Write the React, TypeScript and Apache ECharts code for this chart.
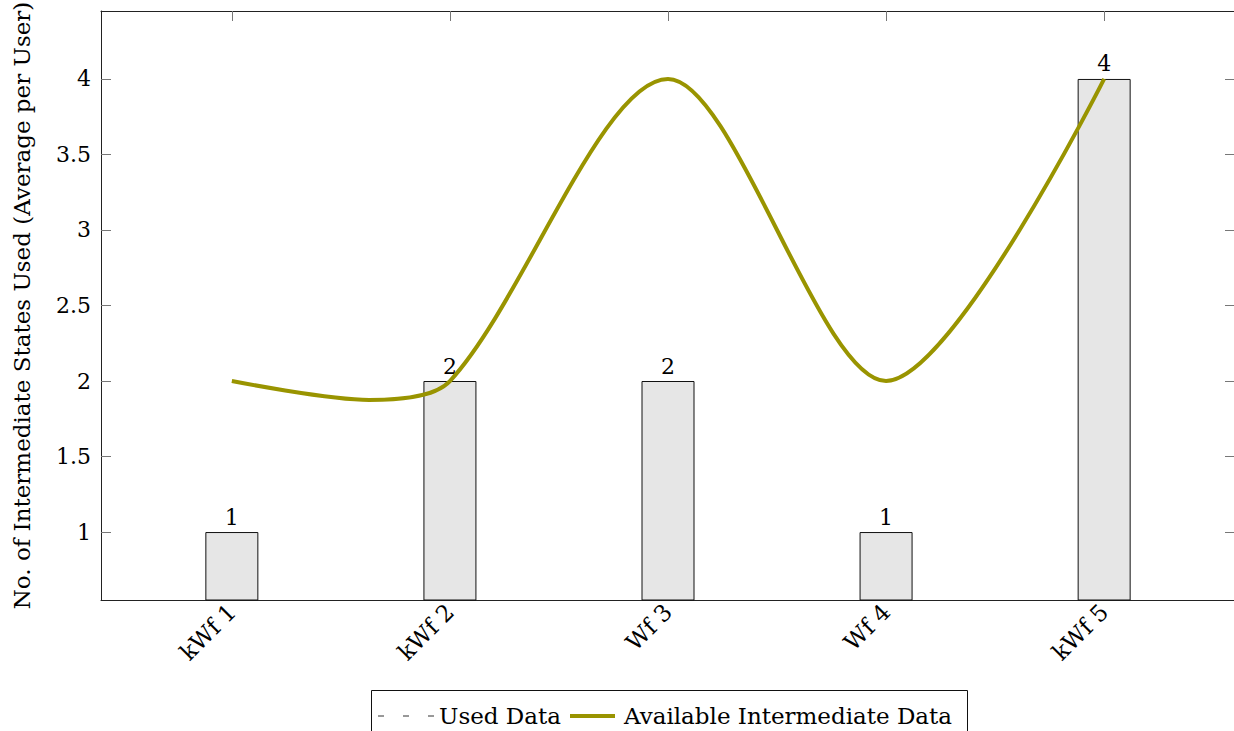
import React, { useEffect, useRef } from "react";
import * as echarts from "echarts";

const categories = ["kWf 1", "kWf 2", "Wf 3", "Wf 4", "kWf 5"];
const usedData = [1, 2, 2, 1, 4];
const lineX = [0, 0.63, 1, 2, 3, 4];
const lineY = [2, 1.875, 2, 4, 2, 4];
const yTicks = [1, 1.5, 2, 2.5, 3, 3.5, 4];
const xTicks = [0, 1, 2, 3, 4];

const FONT = "DejaVu Serif";
const FS = 23;
const FS_NUM = 22;
const OLIVE = "#999400";

export default function App() {
  const ref = useRef<HTMLDivElement>(null);
  useEffect(() => {
    if (!ref.current) return;
    const chart = echarts.init(ref.current, null, { renderer: "svg" });
    const tickStyle = { color: "#777", width: 1 };
    const axisLine = { show: true, onZero: false, lineStyle: { color: "#222", width: 1 } };
    chart.setOption({
      animation: false,
      backgroundColor: "#fff",
      textStyle: { fontFamily: FONT },
      grid: { left: 101, top: 11, width: 1134, height: 589, containLabel: false, outerBoundsMode: "none" },
      xAxis: [
        {
          type: "value",
          min: -0.6,
          max: 4.6,
          position: "bottom",
          axisLine,
          axisTick: { show: true, inside: true, length: 10, customValues: xTicks, lineStyle: tickStyle },
          axisLabel: {
            show: true,
            customValues: xTicks,
            formatter: (v: number) => categories[Math.round(v)] ?? "",
            rotate: 45,
            margin: 8,
            fontFamily: FONT,
            fontSize: FS,
            color: "#000",
          },
          splitLine: { show: false },
        },
        {
          type: "value",
          min: -0.6,
          max: 4.6,
          position: "top",
          axisLine,
          axisTick: { show: true, inside: true, length: 10, customValues: xTicks, lineStyle: tickStyle },
          axisLabel: { show: false },
          splitLine: { show: false },
        },
      ],
      yAxis: [
        {
          type: "value",
          min: 0.55,
          max: 4.45,
          position: "left",
          axisLine,
          axisTick: { show: true, inside: true, length: 10, customValues: yTicks, lineStyle: tickStyle },
          axisLabel: {
            show: true,
            customValues: yTicks,
            formatter: (v: number) => String(v),
            margin: 10,
            fontFamily: FONT,
            fontSize: FS_NUM,
            color: "#000",
          },
          splitLine: { show: false },
          name: "No. of Intermediate States Used (Average per User)",
          nameLocation: "middle",
          nameGap: 68,
          nameTextStyle: { fontFamily: FONT, fontSize: FS, color: "#000" },
        },
        {
          type: "value",
          min: 0.55,
          max: 4.45,
          position: "right",
          axisLine,
          axisTick: { show: true, inside: true, length: 10, customValues: yTicks, lineStyle: tickStyle },
          axisLabel: { show: false },
          splitLine: { show: false },
        },
      ],
      series: [
        {
          name: "Used Data",
          type: "bar",
          xAxisIndex: 0,
          yAxisIndex: 0,
          data: usedData.map((v, i) => [i, v]),
          barWidth: 53,
          clip: true,
          itemStyle: { color: "#e6e6e6", borderColor: "#111", borderWidth: 1 },
          label: {
            show: true,
            position: "top",
            distance: 4,
            fontFamily: FONT,
            fontSize: FS_NUM,
            color: "#000",
            formatter: (p: any) => String(p.value[1]),
          },
          z: 2,
        },
        {
          name: "Available Intermediate Data",
          type: "line",
          xAxisIndex: 0,
          yAxisIndex: 0,
          data: lineX.map((x, i) => [x, lineY[i]]),
          smooth: 0.3,
          symbol: "none",
          lineStyle: { color: OLIVE, width: 4 },
          z: 3,
        },
      ],
      graphic: [
        {
          type: "rect",
          shape: { x: 371.5, y: 690.5, width: 596, height: 80 },
          style: { fill: "#fff", stroke: "#111", lineWidth: 1 },
          z: 10,
        },
        {
          type: "line",
          shape: { x1: 378, y1: 716, x2: 434, y2: 716 },
          style: { stroke: "#333", lineWidth: 1, lineDash: [6, 19] },
          z: 11,
        },
        {
          type: "text",
          x: 439,
          y: 716,
          style: { text: "Used Data", fontFamily: FONT, fontSize: FS, fill: "#000", verticalAlign: "middle", align: "left" },
          z: 11,
        },
        {
          type: "line",
          shape: { x1: 570, y1: 716, x2: 615, y2: 716 },
          style: { stroke: OLIVE, lineWidth: 4 },
          z: 11,
        },
        {
          type: "text",
          x: 624,
          y: 716,
          style: { text: "Available Intermediate Data", fontFamily: FONT, fontSize: FS, fill: "#000", verticalAlign: "middle", align: "left" },
          z: 11,
        },
      ],
    });
    return () => chart.dispose();
  }, []);
  return (
    <div
      ref={ref}
      style={{ position: "fixed", left: 0, top: 0, width: 1234, height: 731, background: "#fff" }}
    />
  );
}
